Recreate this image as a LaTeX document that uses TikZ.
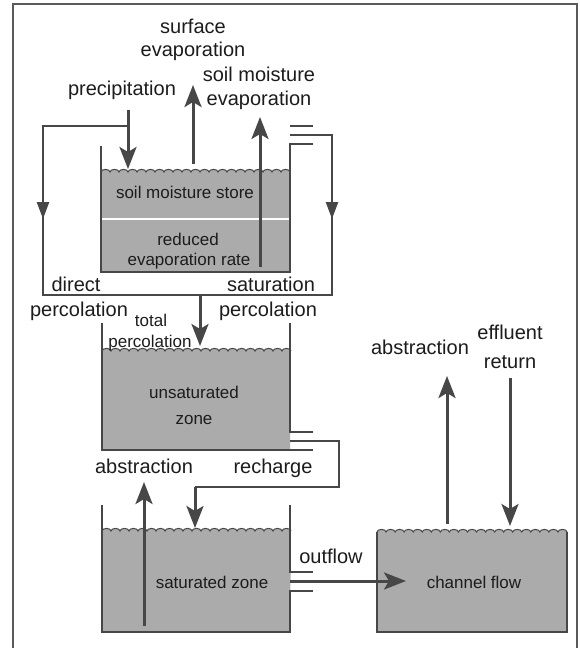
\documentclass[tikz,border=0pt]{standalone}
\usepackage{fontspec}
\setmainfont{Liberation Sans}
\usetikzlibrary{arrows.meta}
\definecolor{lc}{HTML}{474747}
\definecolor{fillc}{HTML}{ABABAB}
\definecolor{txt}{HTML}{1C1C1C}
\definecolor{framec}{HTML}{5A5A5A}
\begin{document}
\begin{tikzpicture}[x=1pt,y=-1pt,
  flow/.style={line width=3pt, draw=lc, -{Stealth[length=22pt,width=17pt,inset=5pt]}},
  pipe/.style={line width=2.4pt, draw=lc, line join=miter},
  midarrow/.style={line width=2.4pt, draw=lc, -{Triangle[length=17pt,width=12pt]}},
  wall/.style={line width=1.6pt, draw=lc, line join=miter},
  wave/.style={line width=1pt, draw=lc},
  big/.style={font=\fontsize{20}{22}\selectfont, text=txt, inner sep=0pt, anchor=base},
  small/.style={font=\fontsize{17}{19}\selectfont, text=txt, inner sep=0pt, anchor=base},
]
\useasboundingbox (0,0) rectangle (580,648);
\fill[white] (0,0) rectangle (580,648);
\draw[framec, line width=1.3pt] (13,660) -- (13,4) -- (577,4) -- (577,660);

% ---------- tank 1 : soil moisture store ----------
\fill[fillc] (101,172) \foreach \k in {1,...,21}{ arc[start angle=180,end angle=360,x radius=4.5,y radius=2.6] } -- (290,272) -- (101,272) -- cycle;
\draw[wave] (101,172) \foreach \k in {1,...,21}{ arc[start angle=180,end angle=360,x radius=4.5,y radius=2.6] };
\draw[white, line width=2pt] (101,219) -- (290,219);
\draw[wall] (101,146) -- (101,272) -- (290,272) -- (290,144) -- (313,144);
\draw[wall] (290,126) -- (313,126);

% ---------- tank 2 : unsaturated zone ----------
\fill[fillc] (102,351) \foreach \k in {1,...,21}{ arc[start angle=180,end angle=360,x radius=4.5,y radius=2.6] } -- (290,450) -- (102,450) -- cycle;
\draw[wave] (102,351) \foreach \k in {1,...,21}{ arc[start angle=180,end angle=360,x radius=4.5,y radius=2.6] };
\draw[wall] (102,323) -- (102,450) -- (313,450);
\draw[wall] (290,323) -- (290,432) -- (313,432);

% ---------- tank 3 : saturated zone ----------
\fill[fillc] (102,531) \foreach \k in {1,...,21}{ arc[start angle=180,end angle=360,x radius=4.5,y radius=2.6] } -- (290,632) -- (102,632) -- cycle;
\draw[wave] (102,531) \foreach \k in {1,...,21}{ arc[start angle=180,end angle=360,x radius=4.5,y radius=2.6] };
\draw[wall] (102,505) -- (102,632) -- (290,632) -- (290,591) -- (313,591);
\draw[wall] (290,505) -- (290,572) -- (313,572);

% ---------- tank 4 : channel flow ----------
\fill[fillc] (377,532) \foreach \k in {1,...,21}{ arc[start angle=180,end angle=360,x radius=4.5238,y radius=2.6] } -- (567,632) -- (377,632) -- cycle;
\draw[wave] (377,532) \foreach \k in {1,...,21}{ arc[start angle=180,end angle=360,x radius=4.5238,y radius=2.6] };
\draw[wall] (377,532) -- (377,632) -- (567,632) -- (567,532);

% ---------- coordinates ----------
\coordinate (p1out) at (290,135);
\coordinate (p1r) at (332,135);
\coordinate (p1rb) at (332,295);
\coordinate (p1lb) at (43,295);
\coordinate (p1lt) at (43,126);
\coordinate (prec) at (128,126);
\coordinate (precTop) at (128,110);
\coordinate (precTip) at (128,169);
\coordinate (totTop) at (200,295);
\coordinate (totTip) at (200,346);
\coordinate (surfB) at (193,164);
\coordinate (surfT) at (193,85);
\coordinate (smB) at (260,267);
\coordinate (smT) at (260,117);
\coordinate (p2out) at (290,441);
\coordinate (p2r) at (339,441);
\coordinate (p2rb) at (339,487);
\coordinate (p2lb) at (195,487);
\coordinate (p2tip) at (195,528);
\coordinate (abs1B) at (144,626);
\coordinate (abs1T) at (144,482);
\coordinate (p3out) at (290,581);
\coordinate (p3tip) at (406,581);
\coordinate (abs2B) at (447,524);
\coordinate (abs2T) at (447,376);
\coordinate (effT) at (510,378);
\coordinate (effB) at (510,526);

% ---------- pipes ----------
\draw[pipe] (p1out) -- (p1r) -- (p1rb) -- (p1lb) -- (p1lt) -- (prec);
\draw[midarrow] (43,200) -- (43,219);
\draw[midarrow] (332,200) -- (332,219);
\draw[flow] (precTop) -- (precTip);
\draw[flow] (totTop) -- (totTip);
\draw[flow] (surfB) -- (surfT);
\draw[flow] (smB) -- (smT);
\draw[pipe] (p2out) -- (p2r) -- (p2rb) -- (p2lb);
\draw[flow] (p2lb) -- (p2tip);
\draw[flow] (abs1B) -- (abs1T);
\draw[flow] (p3out) -- (p3tip);
\draw[flow] (abs2B) -- (abs2T);
\draw[flow] (effT) -- (effB);

% ---------- labels ----------
\node[big] (surf1) at (193,33) {surface};
\node[big] (surf2) at (193,56) {evaporation};
\node[big] (precl) at (122,95) {precipitation};
\node[big] (sm1) at (259,81) {soil moisture};
\node[big] (sm2) at (259,105) {evaporation};
\node[small] (sms) at (185,198) {soil moisture store};
\node[small] (red1) at (188,245) {reduced};
\node[small] (red2) at (189,265) {evaporation rate};
\node[big] (dir1) at (76,291) {direct};
\node[big] (dir2) at (79,316) {percolation};
\node[big] (sat1) at (271,291) {saturation};
\node[big] (sat2) at (268,316) {percolation};
\node[small] (tot1) at (151,326) {total};
\node[small] (tot2) at (150,347) {percolation};
\node[small] (uns1) at (194,398) {unsaturated};
\node[small] (uns2) at (194,424) {zone};
\node[big] (absl) at (144,473) {abstraction};
\node[big] (rech) at (273,473) {recharge};
\node[small] (satz) at (212,588) {saturated zone};
\node[big] (outf) at (331,563) {outflow};
\node[small] (chan) at (474,588) {channel flow};
\node[big] (absr) at (420,354) {abstraction};
\node[big] (eff1) at (510,339) {effluent};
\node[big] (eff2) at (510,368) {return};
\end{tikzpicture}
\end{document}
